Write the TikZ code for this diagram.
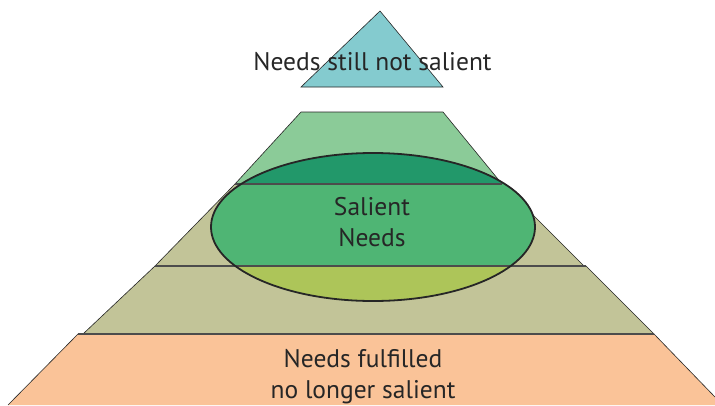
\documentclass[tikz,border=0pt]{standalone}
\usepackage{fontspec}
\setmainfont{PT Sans}
\definecolor{tealtop}{HTML}{84CBCF}
\definecolor{greentop}{HTML}{8BCB98}
\definecolor{khaki}{HTML}{C2C498}
\definecolor{peach}{HTML}{FAC398}
\definecolor{darkgreen}{HTML}{22986A}
\definecolor{midgreen}{HTML}{4FB574}
\definecolor{limegreen}{HTML}{ADC559}

\begin{document}
\begin{tikzpicture}[
    x=1pt, y=-1pt,
    layer/.style={draw=black!85, line width=0.6pt},
    band/.style={draw=black!70, line width=1.3pt},
    label/.style={font=\fontsize{25.5}{31}\selectfont, text=black!85, align=center, inner sep=0pt}
    ]
    \useasboundingbox (0,0) rectangle (715,405);

    % pyramid layers
    \fill[peach] (78,334) -- (654,334) -- (715,397) -- (715,405) -- (8,405) -- cycle;
    \draw[layer] (8,405) -- (78,334) -- (654,334) -- (715,397);
    \path[layer, fill=khaki] (155,266) -- (586,266) -- (654,334) -- (83,334) -- cycle;
    \path[layer, fill=khaki] (235,184) -- (502,184) -- (584,266) -- (155,266) -- cycle;
    \path[layer, fill=greentop] (301,112) -- (443,112) -- (502,184) -- (235,184) -- cycle;
    \path[layer, fill=tealtop] (301,87) -- (380,11) -- (443,87) -- cycle;

    % salient ellipse
    \begin{scope}
      \clip (373,227) ellipse [x radius=162, y radius=74];
      \fill[darkgreen] (200,140) rectangle (550,184);
      \fill[midgreen] (200,184) rectangle (550,266);
      \fill[limegreen] (200,266) rectangle (550,310);
    \end{scope}

    \draw[band] (235,184) -- (502,184);
    \draw[band] (155,266) -- (586,266);
    \draw[band] (78,334) -- (654,334);
    \draw[line width=1.8pt, black!85] (373,227) ellipse [x radius=162, y radius=74];

    \node[label, anchor=base] (still) at (372.5,70) {Needs still not salient};
    \node[label] (salient) at (372,222) {Salient\\Needs};
    \node[label] (fulfilled) at (363,377) {Needs fulfilled\\no longer salient};
\end{tikzpicture}
\end{document}
